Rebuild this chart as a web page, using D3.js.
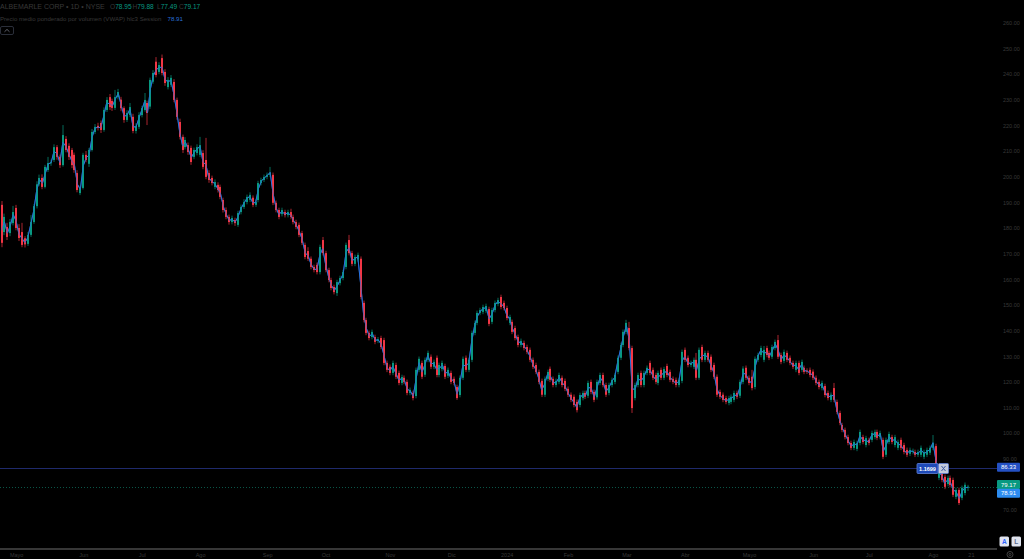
<!DOCTYPE html>
<html><head><meta charset="utf-8">
<script src="https://cdn.jsdelivr.net/npm/d3@7"></script>
<style>html,body{margin:0;padding:0;background:#000;overflow:hidden}text{font-family:"Liberation Sans",Arial,sans-serif}</style>
</head><body><svg id="c" width="1024" height="559"></svg>
<script>
// ---- DATA (ALBEMARLE CORP, 1D, NYSE) ----
const opens=[
189.0,178.4,180.4,178.0,181.9,187.8,180.0,178.4,176.0,173.8,
177.3,182.3,188.5,197.0,199.5,196.0,202.6,205.3,206.5,211.5,
207.7,204.5,214.7,212.0,210.4,208.5,201.4,193.6,195.6,208.5,
205.0,210.4,217.4,219.8,220.9,218.2,226.0,231.0,229.5,226.8,
231.0,230.0,226.7,222.1,224.0,223.3,217.8,219.4,224.0,226.0,
228.7,227.3,237.0,244.8,240.8,246.2,240.8,234.9,235.8,236.9,
229.9,221.3,215.5,211.5,212.3,211.2,207.7,209.2,208.5,209.2,
206.5,201.4,199.5,196.0,196.8,196.0,190.9,187.0,184.3,182.3,
183.1,181.2,186.2,188.2,190.1,191.0,191.8,189.0,190.9,197.5,
198.7,199.9,200.7,200.7,189.8,187.0,185.4,186.2,185.0,186.2,
184.3,182.3,181.2,178.0,173.4,171.0,168.0,164.8,165.6,162.8,
175.3,170.2,163.6,159.7,157.0,154.6,158.5,160.5,164.8,175.3,
170.2,166.0,167.8,168.0,150.8,144.1,139.1,137.5,137.5,136.0,
137.1,136.3,127.4,125.9,123.5,126.6,123.5,119.6,121.6,120.0,
115.7,115.7,114.5,124.7,127.4,122.8,128.6,129.8,125.9,129.4,
122.7,125.0,126.2,122.4,123.5,121.2,118.0,114.9,121.6,129.4,
124.7,128.6,139.1,143.0,146.9,147.3,147.7,148.4,143.4,148.0,
150.4,153.1,150.8,148.8,143.0,143.4,141.0,137.5,134.4,135.2,
133.6,132.5,128.6,126.6,123.9,120.4,115.0,121.2,125.1,121.2,
118.8,120.0,121.6,120.4,117.3,115.0,114.2,112.2,111.0,113.7,
115.7,114.6,120.0,116.1,114.0,119.6,122.7,118.8,115.7,118.8,
120.0,123.9,129.4,134.4,139.5,141.0,133.2,113.7,118.8,123.5,
118.8,123.5,127.4,124.7,122.7,119.6,124.7,121.6,126.2,123.9,
121.2,120.8,118.8,120.4,132.5,129.4,126.6,125.9,128.6,121.6,
133.6,128.6,131.3,129.8,126.6,122.0,116.1,115.0,113.7,111.8,
112.2,113.0,115.7,114.6,120.0,125.5,121.6,122.0,118.0,128.6,
130.5,128.6,133.2,131.3,129.8,133.2,136.3,130.5,128.2,131.3,
129.4,127.4,124.7,127.4,124.7,125.5,124.4,124.7,124.0,121.6,
120.0,117.6,118.4,115.7,113.0,117.6,112.2,107.9,103.2,101.3,
98.5,96.2,94.3,93.9,96.2,98.5,95.4,97.4,97.4,98.5,
100.5,98.5,97.4,91.6,96.6,98.5,95.4,94.3,97.4,95.4,
93.5,92.0,92.7,92.7,91.6,91.6,90.8,91.6,92.4,94.3,
95.0,82.6,86.9,83.0,80.2,82.6,81.8,75.2,77.9,74.8,
76.7,78.95];
const highs=[
190.5,185.6,182.0,183.5,188.6,189.0,181.5,182.0,176.8,178.4,
185.0,189.4,198.2,200.8,200.9,204.6,207.7,206.6,212.6,212.3,
208.6,220.1,215.8,213.0,211.2,209.4,202.5,196.5,209.3,210.0,
211.2,218.6,220.5,221.0,221.9,227.0,231.0,232.2,230.4,233.8,
234.2,231.1,227.4,225.9,228.7,224.5,220.8,225.1,227.6,232.6,
229.6,238.6,241.5,246.6,244.6,247.6,241.9,238.8,239.6,238.0,
230.8,222.6,216.4,215.4,213.3,212.1,211.3,212.6,215.5,210.3,
215.1,202.5,200.4,198.9,197.8,196.9,191.8,188.0,185.2,184.8,
184.0,186.7,189.1,191.2,193.0,193.9,192.7,191.1,198.4,199.6,
200.8,201.6,203.8,201.6,190.7,187.9,187.9,187.1,187.1,187.5,
185.2,183.2,182.1,178.9,174.3,172.5,168.9,165.7,166.5,173.5,
176.5,171.1,164.5,160.6,157.9,159.8,161.4,163.7,174.3,177.3,
171.1,169.6,170.4,168.9,151.7,145.0,140.0,140.4,138.4,137.5,
138.0,137.2,128.3,126.8,128.3,127.5,124.4,122.8,122.5,120.9,
117.8,116.6,125.6,129.9,128.3,129.5,132.2,130.7,128.7,130.3,
127.5,128.3,127.1,125.6,124.4,122.1,118.9,122.5,129.9,130.3,
129.5,140.0,143.9,147.8,148.9,150.1,150.5,149.3,148.9,151.7,
152.8,154.0,151.7,149.7,146.2,144.3,141.9,138.4,136.9,136.1,
134.5,133.4,129.5,127.5,124.8,121.3,122.1,124.8,126.0,122.1,
121.3,123.6,122.5,121.3,118.2,115.9,115.1,113.1,115.8,116.6,
116.6,120.5,120.9,117.0,120.9,123.6,123.6,119.7,119.7,121.7,
123.6,130.3,135.3,140.4,144.2,143.4,134.1,119.7,123.6,124.4,
124.4,126.4,128.3,125.6,123.6,124.4,125.6,125.9,127.1,124.8,
122.1,121.7,121.7,132.6,133.4,130.3,128.3,129.5,131.3,133.4,
134.5,132.2,132.2,130.7,127.5,122.9,117.0,115.9,114.6,114.6,
115.1,116.6,116.6,120.9,126.1,126.4,122.5,124.7,129.9,131.4,
134.1,134.0,134.1,132.2,134.5,136.5,138.3,131.4,132.6,132.2,
130.3,128.3,128.3,128.3,128.7,126.4,125.3,125.6,124.9,122.5,
120.9,120.5,119.3,116.6,115.9,119.6,113.1,108.8,104.1,102.2,
99.4,97.1,97.5,97.1,101.4,99.4,99.0,98.3,101.0,101.4,
101.4,101.0,98.3,98.3,100.6,99.4,99.4,97.5,98.3,96.3,
94.4,94.4,94.0,93.6,93.6,95.2,93.6,94.4,95.2,99.3,
95.9,86.6,87.8,83.9,83.5,83.5,82.7,78.8,78.8,79.6,
80.8,79.88];
const lows=[
172.5,177.2,175.3,176.8,181.0,179.1,174.9,172.5,172.4,173.0,
176.5,181.6,187.6,196.3,195.1,195.4,201.8,204.2,205.7,206.6,
203.4,203.9,209.5,206.5,203.3,201.5,193.9,192.8,195.0,205.6,
203.8,209.8,216.6,218.0,217.0,217.5,225.2,226.0,225.6,226.0,
230.1,225.5,221.0,221.3,223.2,216.9,216.8,218.6,223.1,225.3,
220.1,226.4,236.2,238.7,239.9,239.5,235.4,234.0,234.9,229.0,
222.2,214.5,209.2,210.6,208.5,204.6,206.8,208.3,207.6,202.9,
199.0,197.6,196.6,195.1,193.8,191.2,186.0,183.4,181.3,181.4,
180.8,180.4,185.3,187.4,189.2,190.1,188.1,188.2,190.0,196.6,
197.9,199.0,199.8,188.9,186.1,183.4,184.5,184.1,184.1,183.4,
181.4,179.5,176.4,173.3,167.8,167.1,163.9,162.7,161.9,161.9,
169.3,162.7,158.8,155.7,154.1,153.5,157.6,159.6,163.9,169.3,
165.1,165.1,166.9,152.2,143.2,138.2,136.2,136.6,134.7,135.1,
132.7,126.5,123.8,122.6,122.6,121.1,118.7,118.7,119.1,114.8,
114.8,112.8,113.6,123.8,121.1,121.9,127.7,125.0,125.0,121.8,
121.8,124.1,121.1,121.5,119.1,118.7,113.0,114.0,120.7,123.8,
123.8,127.7,138.2,142.1,146.0,146.4,146.8,141.7,142.5,147.1,
149.5,148.3,147.9,144.0,142.1,138.6,136.2,133.5,133.5,132.3,
130.8,127.7,125.0,123.0,119.1,114.1,114.1,120.3,119.9,117.9,
117.9,119.1,117.9,116.4,114.1,112.1,110.1,108.1,110.1,112.8,
113.3,113.7,115.2,112.1,113.1,118.7,117.9,114.1,114.8,117.9,
119.1,123.0,128.5,133.5,138.6,132.3,107.9,112.8,117.9,117.9,
117.9,122.6,122.6,120.7,119.1,118.7,120.7,120.7,121.8,119.9,
119.1,117.9,117.9,119.5,127.7,125.7,125.7,125.0,120.7,120.8,
127.7,127.7,127.7,123.8,121.1,114.1,113.3,112.1,111.3,110.9,
111.3,112.1,113.3,113.7,119.1,120.7,118.7,116.7,117.1,127.7,
129.6,127.7,129.6,128.5,128.9,132.3,128.9,126.9,127.3,127.7,
126.5,125.0,123.8,122.6,123.8,123.0,123.1,121.8,120.7,118.7,
117.1,116.7,114.0,112.8,112.1,112.1,107.4,103.1,100.4,97.6,
95.3,93.4,93.4,93.0,95.3,95.7,94.5,95.3,96.5,97.6,
97.3,97.6,89.9,90.7,95.7,95.7,94.5,93.4,93.4,91.8,
90.7,91.1,91.8,90.7,90.7,90.7,89.9,90.7,91.5,93.4,
86.0,81.7,80.9,78.2,79.3,78.9,75.1,74.3,72.0,73.9,
75.8,77.49];
const closes=[
174.2,184.3,176.5,182.3,186.2,180.0,176.1,173.4,173.6,177.3,
182.3,188.5,197.0,199.5,196.0,203.8,205.3,205.6,211.5,207.7,
204.5,216.2,210.4,207.7,204.5,202.6,194.8,195.6,208.5,206.5,
210.4,217.4,219.4,219.0,218.2,226.0,229.9,227.1,226.8,231.0,
233.0,226.7,222.1,224.8,227.1,217.8,219.8,224.0,226.7,229.9,
224.8,237.7,240.4,239.6,243.5,240.4,236.5,237.7,238.5,229.9,
223.3,215.5,210.4,214.3,209.6,205.7,210.4,211.5,212.3,203.8,
199.9,198.7,197.5,197.9,194.8,192.1,187.0,184.3,182.3,183.9,
181.9,185.8,188.2,190.1,192.1,192.9,189.0,190.1,197.5,198.7,
199.9,200.7,201.4,189.8,187.0,184.3,187.0,185.0,186.2,184.3,
182.3,180.4,177.3,174.2,168.7,168.0,164.8,163.6,162.8,172.6,
170.2,163.6,159.7,156.6,155.0,158.9,160.5,162.8,173.4,170.2,
166.0,168.7,169.5,153.1,144.1,139.1,137.1,139.5,135.6,136.6,
133.6,127.4,124.7,123.5,127.4,122.0,119.6,121.9,120.0,115.7,
116.9,113.7,124.7,129.0,122.0,128.6,131.3,125.9,127.8,122.7,
126.6,127.4,122.0,124.7,120.0,119.6,113.7,121.6,129.0,124.7,
128.6,139.1,143.0,146.9,148.0,149.2,149.6,142.6,148.0,150.8,
151.9,149.2,148.8,144.9,145.3,139.5,137.1,134.4,136.0,133.2,
131.7,128.6,125.9,123.9,120.0,115.0,121.2,123.9,120.8,118.8,
120.4,122.7,118.8,117.3,115.0,113.0,111.0,109.0,114.9,115.7,
114.2,119.6,116.1,113.0,120.0,122.7,118.8,115.0,118.8,120.8,
122.7,129.4,134.4,139.5,143.0,133.2,109.8,118.8,122.7,118.8,
123.5,125.5,123.5,121.6,120.0,123.5,121.6,125.0,122.7,120.8,
120.0,118.8,120.8,131.7,128.6,126.6,127.4,128.6,121.6,132.5,
128.6,131.3,128.6,124.7,122.0,115.0,114.2,113.0,112.2,113.7,
114.2,115.7,114.2,120.0,125.2,121.6,119.6,117.6,129.0,130.5,
133.2,132.5,130.5,129.4,133.6,135.6,129.8,127.8,131.7,128.6,
127.4,125.9,127.4,123.5,127.8,123.9,124.0,122.7,121.6,119.6,
118.0,119.6,114.9,113.7,115.0,113.0,108.3,104.0,101.3,98.5,
96.2,94.3,96.6,96.2,100.5,96.6,98.1,96.2,100.1,100.5,
98.2,100.1,90.8,97.4,99.7,96.6,98.5,96.6,94.3,92.7,
91.6,93.5,93.1,91.6,92.7,94.3,92.7,93.5,94.3,96.2,
86.9,85.7,81.8,79.1,82.6,79.8,76.0,77.9,72.8,78.7,
79.9,79.17];
const timeLabels=["Mayo","Jun","Jul","Ago","Sep","Oct","Nov","Dic","2024","Feb","Mar","Abr","Mayo","Jun","Jul","Ago","21"];
const timeLabelIdx=[5,28,48,68,91,111,133,154,173,194,214,234,256,278,297,319,332];
const priceTicks=[70,80,90,100,110,120,130,140,150,160,170,180,190,200,210,220,230,240,250,260];
const alertLevel=86.33;
const alertText="1.1699";
const vwapLast=78.91;
const title="ALBEMARLE CORP \u2022 1D \u2022 NYSE";
const vwapTitle="Precio medio ponderado por volumen (VWAP) hlc3 Session";

// ---- DRAW ----
const N=closes.length;
const UP="#089981", DOWN="#f23645", VW="#2a72dc", DIM="#383838";
const x=d3.scaleLinear().domain([0,N-1]).range([1.5,968]);
const y=d3.scaleLinear().domain([70,260]).range([510.2,22.7]);
const svg=d3.select("#c");
svg.append("rect").attr("width",1024).attr("height",559).attr("fill","#000");

// horizontal lines
const ya=Math.round(y(alertLevel))+0.5;
svg.append("line").attr("x1",0).attr("x2",997).attr("y1",ya).attr("y2",ya)
  .attr("stroke","#1f2a6c").attr("stroke-width",1);
const yl=Math.round(y(closes[N-1]))+0.5;
svg.append("line").attr("x1",0).attr("x2",997).attr("y1",yl).attr("y2",yl)
  .attr("stroke","#0a5547").attr("stroke-width",1).attr("stroke-dasharray","1,2");

// VWAP (hlc3 session)
const idx=d3.range(N);
const vwap=idx.map(i=>(highs[i]+lows[i]+closes[i])/3);
const vwPath=svg.append("path").datum(idx).attr("fill","none").attr("stroke",VW).attr("stroke-width",1)
  .attr("d",d3.line().x(i=>x(i)).y(i=>y(vwap[i])));

// candles
const g=svg.append("g");
g.selectAll("line.w").data(idx).join("line").attr("class","w")
  .attr("x1",i=>Math.round(x(i))).attr("x2",i=>Math.round(x(i)))
  .attr("y1",i=>y(highs[i])).attr("y2",i=>y(lows[i]))
  .attr("stroke",i=>closes[i]>=opens[i]?UP:DOWN).attr("stroke-width",1).attr("opacity",0.7);
g.selectAll("rect.b").data(idx).join("rect").attr("class","b")
  .attr("x",i=>Math.round(x(i))-1).attr("width",2)
  .attr("y",i=>y(Math.max(opens[i],closes[i])))
  .attr("height",i=>Math.max(1,Math.abs(y(opens[i])-y(closes[i]))))
  .attr("fill",i=>closes[i]>=opens[i]?UP:DOWN);
// VWAP drawn over the series, semi-transparent
svg.append("path").datum(idx).attr("fill","none").attr("stroke",VW).attr("stroke-width",0.9).attr("opacity",0.75)
  .attr("d",d3.line().x(i=>x(i)).y(i=>y(vwap[i])));

// price axis
const ax=svg.append("g").attr("transform","translate(1000,0)")
  .call(d3.axisRight(y).tickValues(priceTicks).tickFormat(d3.format(".2f")).tickSize(0).tickPadding(3));
ax.select(".domain").remove();
ax.selectAll("text").attr("fill",DIM).attr("font-size",5.5);

// time axis
svg.append("line").attr("x1",0).attr("x2",997).attr("y1",549).attr("y2",549).attr("stroke","#4a4a4a").attr("stroke-width",1.3);
const tx=svg.append("g").attr("transform","translate(0,550)")
  .call(d3.axisBottom(x).tickValues(timeLabelIdx).tickFormat((d,i)=>timeLabels[i]).tickSize(0).tickPadding(3));
tx.select(".domain").remove();
tx.selectAll("text").attr("fill",DIM).attr("font-size",5.5);

// alert label on line
const al=svg.append("g");
al.append("rect").attr("x",917).attr("y",ya-5).attr("width",21).attr("height",10).attr("rx",1)
  .attr("fill","#1e4ab8").attr("stroke","#5f82d8").attr("stroke-width",0.8);
al.append("text").attr("x",927.5).attr("y",ya+2).attr("text-anchor","middle").attr("font-size",5.5)
  .attr("font-weight","bold").attr("fill","#fff").text(alertText);
al.append("rect").attr("x",938.5).attr("y",ya-5).attr("width",10).attr("height",10).attr("rx",1)
  .attr("fill","#c3cadc").attr("stroke","#5f82d8").attr("stroke-width",0.8);
al.append("path").attr("d",`M941.5,${ya-2.5}L945.5,${ya+2.5}M945.5,${ya-2.5}L941.5,${ya+2.5}`)
  .attr("stroke","#3d5a9e").attr("stroke-width",1);

// right labels
function tag(val,cy,fill){
  svg.append("rect").attr("x",997).attr("y",cy-4.5).attr("width",23).attr("height",9).attr("rx",1).attr("fill",fill);
  svg.append("text").attr("x",1008.5).attr("y",cy+2).attr("text-anchor","middle").attr("font-size",6)
    .attr("fill","#fff").text(d3.format(".2f")(val));
}
tag(alertLevel,y(alertLevel)-1,"#2451c4");
tag(closes[N-1],484.5,UP);
tag(vwapLast,493.2,"#2d8cf0");

// legend
svg.append("text").attr("x",0).attr("y",9).attr("font-size",7).attr("fill",DIM).text(title);
const ohlc=[["O",opens[N-1]],["H",highs[N-1]],["L",lows[N-1]],["C",closes[N-1]]];
const ohlcX=[110,132.5,157,179];
ohlc.forEach((p,k)=>{
  svg.append("text").attr("x",ohlcX[k]).attr("y",9).attr("font-size",6.6).attr("fill",DIM).text(p[0])
    .append("tspan").attr("fill",UP).text(d3.format(".2f")(p[1]));
});
svg.append("text").attr("x",0).attr("y",20.5).attr("font-size",6.1).attr("fill",DIM).text(vwapTitle);
svg.append("text").attr("x",167.5).attr("y",20.5).attr("font-size",6.2).attr("fill",VW).text(d3.format(".2f")(vwapLast));
svg.append("rect").attr("x",0.5).attr("y",26.5).attr("width",13).attr("height",8).attr("rx",1.5)
  .attr("fill","#000").attr("stroke","#2a2e39");
svg.append("path").attr("d","M4.5,31.8L7,29.4L9.5,31.8").attr("fill","none").attr("stroke","#6a6d78").attr("stroke-width",0.9);

// A / L buttons and settings icon
[["A",999.5,"#2962ff"],["L",1011.5,"#5b6b8c"]].forEach(b=>{
  svg.append("rect").attr("x",b[1]).attr("y",536.5).attr("width",9.5).attr("height",10).attr("rx",1.5).attr("fill","#dfe3ee");
  svg.append("text").attr("x",b[1]+4.75).attr("y",544).attr("text-anchor","middle").attr("font-size",6.5)
    .attr("font-weight","bold").attr("fill",b[2]).text(b[0]);
});
svg.append("circle").attr("cx",1010).attr("cy",554.5).attr("r",3).attr("fill","none").attr("stroke","#4a4a4a").attr("stroke-width",0.9);
svg.append("circle").attr("cx",1010).attr("cy",554.5).attr("r",1.1).attr("fill","none").attr("stroke","#4a4a4a").attr("stroke-width",0.8);
</script></body></html>
